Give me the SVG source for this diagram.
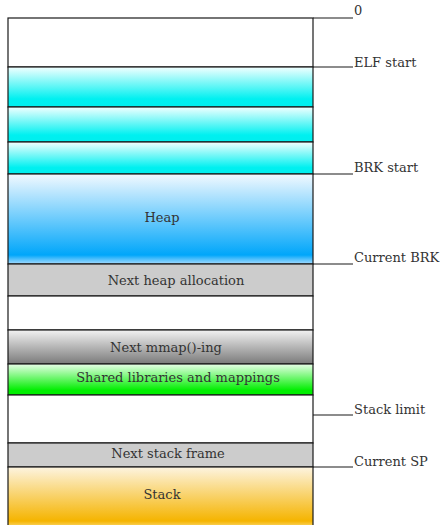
<svg xmlns="http://www.w3.org/2000/svg" width="444" height="525" viewBox="0 0 444 525">
<defs>
<linearGradient id="gCyan" x1="0" y1="0" x2="0" y2="1">
<stop offset="0" stop-color="#f2ffff"/><stop offset="0.8" stop-color="#00f0f0"/><stop offset="1" stop-color="#00eeee"/>
</linearGradient>
<linearGradient id="gHeap" x1="0" y1="0" x2="0" y2="1">
<stop offset="0" stop-color="#f2f9ff"/><stop offset="0.9" stop-color="#00a6fa"/><stop offset="1" stop-color="#a8dcff"/>
</linearGradient>
<linearGradient id="gMmap" x1="0" y1="0" x2="0" y2="1">
<stop offset="0" stop-color="#f2f2f2"/><stop offset="1" stop-color="#7a7a7a"/>
</linearGradient>
<linearGradient id="gShared" x1="0" y1="0" x2="0" y2="1">
<stop offset="0" stop-color="#e8ffe8"/><stop offset="0.85" stop-color="#00ee00"/><stop offset="1" stop-color="#00ee00"/>
</linearGradient>
<linearGradient id="gStack" x1="0" y1="0" x2="0" y2="1">
<stop offset="0" stop-color="#fdf4e0"/><stop offset="0.9" stop-color="#f5b400"/><stop offset="1" stop-color="#fbd870"/>
</linearGradient>
</defs>
<style>
.b{stroke:#1a1a1a;stroke-width:1.2}
.t{font-family:"DejaVu Serif",serif;font-size:13px;fill:#333;text-anchor:middle}
.l{font-family:"DejaVu Serif",serif;font-size:13px;fill:#333}
.c{stroke:#1a1a1a;stroke-width:1.2;fill:none}
</style>
<rect width="444" height="525" fill="#fff"/>
<g id="top"><rect class="b" x="8" y="18" width="305" height="49" fill="#fff"/></g>
<g id="elf1"><rect class="b" x="8" y="67" width="305" height="40" fill="url(#gCyan)"/></g>
<g id="elf2"><rect class="b" x="8" y="107" width="305" height="35" fill="url(#gCyan)"/></g>
<g id="elf3"><rect class="b" x="8" y="142" width="305" height="32" fill="url(#gCyan)"/></g>
<g id="heap"><rect class="b" x="8" y="174" width="305" height="90" fill="url(#gHeap)"/><text class="t" x="162" y="222">Heap</text></g>
<g id="nextheap"><rect class="b" x="8" y="264" width="305" height="32" fill="#cccccc"/><text class="t" x="176" y="285">Next heap allocation</text></g>
<g id="gap1"><rect class="b" x="8" y="296" width="305" height="34" fill="#fff"/></g>
<g id="nextmmap"><rect class="b" x="8" y="330" width="305" height="34" fill="url(#gMmap)"/><text class="t" x="166" y="352">Next mmap()-ing</text></g>
<g id="shared"><rect class="b" x="8" y="364" width="305" height="31" fill="url(#gShared)"/><text class="t" x="178" y="382">Shared libraries and mappings</text></g>
<g id="gap2"><rect class="b" x="8" y="395" width="305" height="48" fill="#fff"/></g>
<g id="nextstack"><rect class="b" x="8" y="443" width="305" height="24" fill="#cccccc"/><text class="t" x="168" y="458">Next stack frame</text></g>
<g id="stack"><rect class="b" x="8" y="467" width="305" height="60" fill="url(#gStack)"/><text class="t" x="162" y="499">Stack</text></g>
<g id="connectors">
<path class="c" d="M313 18H353M313 67H353M313 174H353M313 264H353M313 415H353M313 467H353"/>
</g>
<g id="labels">
<text class="l" x="354" y="15">0</text>
<text class="l" x="354" y="67">ELF start</text>
<text class="l" x="354" y="172">BRK start</text>
<text class="l" x="354" y="262">Current BRK</text>
<text class="l" x="354" y="414">Stack limit</text>
<text class="l" x="354" y="466">Current SP</text>
</g>
</svg>
